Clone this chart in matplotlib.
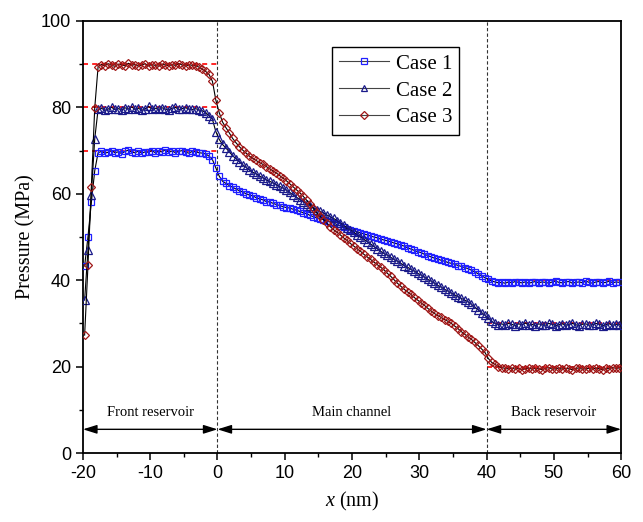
import matplotlib
matplotlib.use("Agg")
import matplotlib.pyplot as plt
from matplotlib.ticker import MultipleLocator

plt.rcParams['mathtext.fontset'] = 'custom'
plt.rcParams['mathtext.rm'] = 'Liberation Serif'
plt.rcParams['mathtext.it'] = 'Liberation Serif:italic'
plt.rcParams['axes.unicode_minus'] = False

# ---------------- data ----------------
x_nm = [
    -19.75, -19.25, -18.75, -18.25, -17.75, -17.25, -16.75, -16.25, -15.75, -15.25,
    -14.75, -14.25, -13.75, -13.25, -12.75, -12.25, -11.75, -11.25, -10.75, -10.25,
    -9.75, -9.25, -8.75, -8.25, -7.75, -7.25, -6.75, -6.25, -5.75, -5.25,
    -4.75, -4.25, -3.75, -3.25, -2.75, -2.25, -1.75, -1.25, -0.75, -0.25,
    0.25, 0.75, 1.25, 1.75, 2.25, 2.75, 3.25, 3.75, 4.25, 4.75,
    5.25, 5.75, 6.25, 6.75, 7.25, 7.75, 8.25, 8.75, 9.25, 9.75,
    10.25, 10.75, 11.25, 11.75, 12.25, 12.75, 13.25, 13.75, 14.25, 14.75,
    15.25, 15.75, 16.25, 16.75, 17.25, 17.75, 18.25, 18.75, 19.25, 19.75,
    20.25, 20.75, 21.25, 21.75, 22.25, 22.75, 23.25, 23.75, 24.25, 24.75,
    25.25, 25.75, 26.25, 26.75, 27.25, 27.75, 28.25, 28.75, 29.25, 29.75,
    30.25, 30.75, 31.25, 31.75, 32.25, 32.75, 33.25, 33.75, 34.25, 34.75,
    35.25, 35.75, 36.25, 36.75, 37.25, 37.75, 38.25, 38.75, 39.25, 39.75,
    40.25, 40.75, 41.25, 41.75, 42.25, 42.75, 43.25, 43.75, 44.25, 44.75,
    45.25, 45.75, 46.25, 46.75, 47.25, 47.75, 48.25, 48.75, 49.25, 49.75,
    50.25, 50.75, 51.25, 51.75, 52.25, 52.75, 53.25, 53.75, 54.25, 54.75,
    55.25, 55.75, 56.25, 56.75, 57.25, 57.75, 58.25, 58.75, 59.25, 59.75,
]

case1 = [
    43.3, 50.1, 58.0, 65.3, 69.5,
    69.8, 69.4, 69.6, 70.0, 69.5, 69.7, 69.3, 69.8, 70.1, 69.6,
    69.5, 69.9, 69.4, 69.7, 69.6, 70.0, 69.5, 69.8, 69.7, 70.2,
    69.6, 69.9, 69.5, 69.8, 70.0, 69.6, 69.4, 69.8, 69.7, 69.5, 69.4,
    69.2, 68.7, 67.9, 66.0,
    64.1, 62.9, 62.4, 61.9, 61.5, 61.1, 60.7, 60.4, 60.0, 59.7,
    59.5, 59.1, 58.8, 58.6, 58.2, 58.1, 57.8, 57.5, 57.3, 57.0,
    56.8, 56.7, 56.4, 56.2, 55.9, 55.6, 55.4, 55.0, 54.7, 54.4,
    54.2, 54.0, 53.7, 53.5, 53.2, 52.9, 52.6, 52.3, 51.9, 51.6,
    51.5, 51.2, 51.0, 50.7, 50.5, 50.2, 50.0, 49.8, 49.5, 49.3,
    49.1, 48.9, 48.6, 48.4, 48.1, 47.9, 47.5, 47.2, 46.9, 46.6,
    46.4, 46.0, 45.7, 45.4, 45.1, 44.9, 44.6, 44.4, 44.1, 43.9,
    43.7, 43.4, 43.2, 42.9, 42.7, 42.3, 41.9, 41.5, 41.0, 40.6,
    40.2, 39.8, 39.6, 39.4, 39.5, 39.3, 39.6, 39.4, 39.7, 39.5,
    39.4, 39.6, 39.3, 39.5, 39.7, 39.4, 39.6, 39.5, 39.3, 39.6,
    39.8, 39.5, 39.4, 39.6, 39.7, 39.3, 39.5, 39.6, 39.4, 39.8,
    39.5, 39.3, 39.6, 39.7, 39.4, 39.5, 39.8, 39.4, 39.6, 39.5,
]

case2 = [
    35.4, 47.1, 59.7, 72.7, 79.5,
    79.8, 79.3, 79.6, 80.0, 79.5, 79.7, 79.4, 79.9, 79.6, 80.1,
    79.5, 79.8, 79.3, 79.7, 80.2, 79.6, 79.8, 79.5, 79.9, 79.6,
    79.4, 79.8, 80.0, 79.5, 79.7, 79.9, 79.6, 79.5, 79.7, 79.4, 79.2,
    78.8, 78.0, 77.2, 74.4,
    72.6, 71.4, 70.6, 69.7, 68.8, 68.1, 67.4, 66.7, 66.1, 65.5,
    65.0, 64.6, 64.1, 63.7, 63.2, 62.9, 62.5, 62.1, 61.7, 61.3,
    60.8, 60.3, 59.7, 59.2, 58.6, 58.2, 57.7, 57.2, 56.8, 56.3,
    55.9, 55.6, 55.1, 54.7, 54.3, 53.8, 53.2, 52.7, 52.1, 51.6,
    51.1, 50.5, 50.0, 49.5, 48.9, 48.4, 47.8, 47.3, 46.7, 46.2,
    45.8, 45.3, 44.8, 44.4, 43.9, 43.4, 43.0, 42.5, 42.1, 41.6,
    41.2, 40.7, 40.2, 39.8, 39.3, 38.8, 38.4, 37.9, 37.5, 37.0,
    36.6, 36.2, 35.8, 35.4, 35.0, 34.4, 33.8, 33.1, 32.5, 31.9,
    31.2, 30.5, 30.0, 29.7, 29.9, 29.6, 30.0, 29.8, 29.5, 29.9,
    29.7, 30.1, 29.6, 29.8, 29.5, 29.9, 29.7, 29.6, 30.0, 29.8,
    29.5, 29.7, 29.9, 29.6, 29.8, 30.0, 29.7, 29.5, 29.8, 29.9,
    29.6, 29.7, 30.0, 29.8, 29.5, 29.7, 29.9, 29.6, 29.8, 29.7,
]

case3 = [
    27.3, 43.5, 61.5, 79.8, 89.4,
    89.9, 89.6, 90.1, 89.7, 89.5, 90.0, 89.8, 89.6, 90.2, 89.7,
    89.9, 89.5, 89.8, 90.1, 89.6, 89.9, 89.7, 89.5, 90.0, 89.8,
    89.6, 89.9, 89.7, 90.1, 89.8, 89.5, 89.9, 89.7, 89.6,
    89.3, 88.8, 88.3, 87.6, 86.0, 81.7,
    78.8, 76.6, 75.3, 74.1, 72.8, 71.8, 70.9, 70.1, 69.4, 68.7,
    68.2, 67.7, 67.2, 66.8, 66.3, 65.8, 65.3, 64.8, 64.2, 63.6,
    63.0, 62.3, 61.6, 60.9, 60.2, 59.4, 58.5, 57.6, 56.6, 55.6,
    54.8, 54.0, 53.2, 52.4, 51.7, 51.1, 50.5, 49.8, 49.2, 48.5,
    47.9, 47.3, 46.7, 46.0, 45.4, 44.8, 44.2, 43.6, 43.0, 42.4,
    41.6, 40.9, 40.1, 39.3, 38.6, 37.9, 37.3, 36.7, 36.0, 35.4,
    34.8, 34.2, 33.5, 32.9, 32.3, 31.8, 31.4, 30.9, 30.5, 30.0,
    29.4, 28.8, 28.1, 27.5, 26.9, 26.3, 25.6, 24.9, 24.1, 23.3,
    21.9, 21.0, 20.5, 20.0, 19.8, 19.6,
    19.5, 19.7, 19.4, 19.6, 19.3, 19.5, 19.7, 19.4, 19.6, 19.5,
    19.3, 19.6, 19.8, 19.4, 19.5, 19.7, 19.4, 19.6, 19.5, 19.3,
    19.6, 19.7, 19.4, 19.5, 19.6, 19.4, 19.7, 19.5, 19.3, 19.6,
    19.5, 19.8, 19.6, 19.7,
]

series_labels = ['Case 1', 'Case 2', 'Case 3']
reservoir_front_levels = [90, 80, 70]
reservoir_back_levels = [40, 30, 20]
region_bounds = [-20, 0, 40, 60]
region_names = ['Front reservoir', 'Main channel', 'Back reservoir']
x_ticks = [-20, -10, 0, 10, 20, 30, 40, 50, 60]
y_ticks = [0, 20, 40, 60, 80, 100]

# ---------------- figure ----------------
fig = plt.figure(figsize=(6.43, 5.22), dpi=100)
ax = fig.add_axes([0.129, 0.132, 0.837, 0.828])

serif = 'Liberation Serif'
sans = 'Liberation Sans'

# reference dashed red lines
for lv in reservoir_front_levels:
    ax.plot([region_bounds[0], region_bounds[1]], [lv, lv], color='#ff0000',
            lw=1.2, dashes=(3, 2.5), zorder=1)
for lv in reservoir_back_levels:
    ax.plot([region_bounds[2], region_bounds[3]], [lv, lv], color='#ff0000',
            lw=1.2, dashes=(3, 2.5), zorder=1)

# vertical region separators
for xb in region_bounds[1:3]:
    ax.axvline(xb, color='#333333', lw=0.8, dashes=(3, 2), zorder=1)

styles = [
    dict(marker='s', mec='#2020ff', ms=4.6),
    dict(marker='^', mec='#1a1a8a', ms=5.3),
    dict(marker='D', mec='#a01818', ms=4.5),
]
for ys, lab, st in zip([case1, case2, case3], series_labels, styles):
    ax.plot(x_nm, ys, color='black', lw=0.8, marker=st['marker'], ms=st['ms'],
            mfc='none', mec=st['mec'], mew=0.9, label=lab, zorder=3)

# region arrows and labels
for (a, b), name in zip(zip(region_bounds[:-1], region_bounds[1:]), region_names):
    ax.annotate('', xy=(a, 5.5), xytext=(b, 5.5),
                arrowprops=dict(arrowstyle='<|-|>,head_length=0.7,head_width=0.22',
                                color='black', lw=1.0, mutation_scale=12,
                                shrinkA=0, shrinkB=0))
    ax.text((a + b) / 2, 9.3, name, ha='center', va='center',
            fontsize=10.5, family=serif)

ax.set_xlim(-20, 60)
ax.set_ylim(0, 100)
ax.set_xticks(x_ticks)
ax.set_yticks(y_ticks)
ax.xaxis.set_minor_locator(MultipleLocator(5))
ax.yaxis.set_minor_locator(MultipleLocator(10))
ax.tick_params(which='major', direction='out', length=5, width=1.1,
               labelsize=13)
ax.tick_params(which='minor', direction='out', length=3, width=1.0)
for lbl in ax.get_xticklabels() + ax.get_yticklabels():
    lbl.set_family(sans)
for sp in ax.spines.values():
    sp.set_linewidth(1.3)

ax.set_xlabel(r'$x$ (nm)', fontsize=14.5, family=serif, labelpad=6)
ax.set_ylabel('Pressure (MPa)', fontsize=14.5, family=serif, labelpad=4)

leg = ax.legend(loc='upper left', bbox_to_anchor=(0.463, 0.94),
                borderaxespad=0, prop=dict(family=serif, size=15),
                fancybox=False, edgecolor='black', framealpha=1,
                handlelength=2.4, handletextpad=0.3, labelspacing=0.35,
                borderpad=0.35, markerscale=0.8)
leg.get_frame().set_linewidth(1.0)
for h in leg.get_lines():
    h.set_color('#444444')

fig.savefig('out.png', dpi=100)
